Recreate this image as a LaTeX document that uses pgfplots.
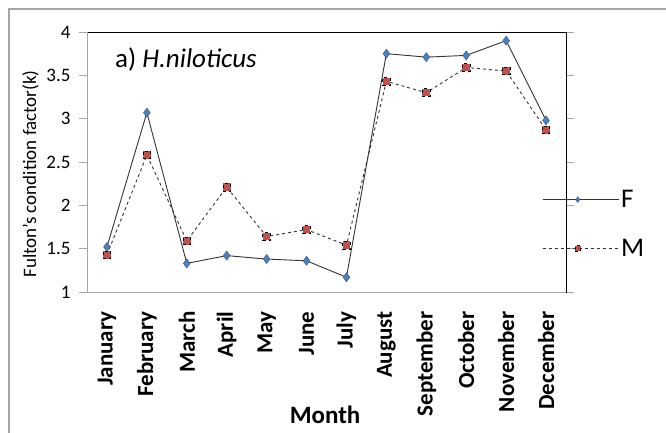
\documentclass[border=0pt]{standalone}
\usepackage{fontspec}
\setmainfont{Carlito}
\usepackage{pgfplots}
\pgfplotsset{compat=1.18}

\definecolor{fblue}{HTML}{4F81BD}
\definecolor{fbluedark}{HTML}{385D8A}
\definecolor{mred}{HTML}{C0504D}
\definecolor{axgray}{HTML}{A6A6A6}

\begin{document}
\begin{tikzpicture}
\begin{axis}[
    at={(87pt,140pt)}, anchor=origin,
    scale only axis,
    width=479pt, height=260pt,
    xmin=0.5, xmax=12.5,
    ymin=1, ymax=4,
    xtick={1,...,12},
    xticklabels={January,February,March,April,May,June,July,August,September,October,November,December},
    minor xtick={0.5,1.5,...,12.5},
    major tick length=8pt,
    xtick style={draw=none},
    minor tick length=8pt,
    minor tick style={axgray,line width=0.8pt},
    x tick label style={rotate=90, anchor=east, font=\fontsize{23}{23}\selectfont\bfseries, xshift=-8pt},
    ytick={1,1.5,...,4},
    yticklabels={1,1.5,2,2.5,3,3.5,4},
    y tick label style={font=\fontsize{19}{19}\selectfont},
    ytick style={axgray,line width=0.8pt},
    yticklabel style={xshift=-5pt},
    tick align=outside,
    axis line style={black,line width=0.8pt},
    xlabel={\textbf{Month}},
    xlabel style={font=\fontsize{25}{25}\selectfont, inner sep=0pt, at={(axis description cs:0.497,-0.472)}, anchor=center},
    ylabel={Fulton's condition factor(k)},
    ylabel style={font=\fontsize{19}{19}\selectfont, at={(axis description cs:-0.118,0.454)}, anchor=center},
    legend style={at={(rel axis cs:0.95,0.40)}, anchor=north west, draw=none, fill=none,
        font=\fontsize{27}{27}\selectfont, row sep=26pt, inner sep=0pt},
    legend cell align=left,
    legend image code/.code={\path (0pt,0pt) -- (76pt,0pt);
        \draw[mark repeat=2,mark phase=2,#1,mark size=2.8pt] plot coordinates {(0pt,0pt) (35pt,0pt) (70pt,0pt)};},
    clip=false,
]
\addplot[black!80, line width=0.9pt, mark=diamond*, mark size=4.5pt,
    mark options={solid, fill=fblue, draw=fbluedark, line width=0.5pt}]
    coordinates {(1,1.52) (2,3.07) (3,1.33) (4,1.42) (5,1.38) (6,1.36) (7,1.17) (8,3.75) (9,3.71) (10,3.73) (11,3.90) (12,2.98)};
\addplot[black!80, line width=0.9pt, dashed, mark=square*, mark size=3.8pt,
    mark options={fill=mred, draw=black, line width=0.8pt, dashed}]
    coordinates {(1,1.43) (2,2.58) (3,1.59) (4,2.21) (5,1.64) (6,1.72) (7,1.54) (8,3.43) (9,3.30) (10,3.59) (11,3.55) (12,2.87)};
\legend{F,M}
\draw[axgray,line width=1pt] (rel axis cs:0,1) -- (rel axis cs:0,0) -- (rel axis cs:1,0);
\node[anchor=west, inner sep=0pt, font=\fontsize{27}{27}\selectfont] at (axis cs:1.2,3.68) {a) \textit{H.niloticus}};
\end{axis}
\draw[axgray,line width=1.2pt] (9pt,-10pt) -- (9pt,423pt) -- (680pt,423pt);
\pgfresetboundingbox
\path[use as bounding box] (0pt,0pt) rectangle (666pt,432pt);
\end{tikzpicture}
\end{document}
